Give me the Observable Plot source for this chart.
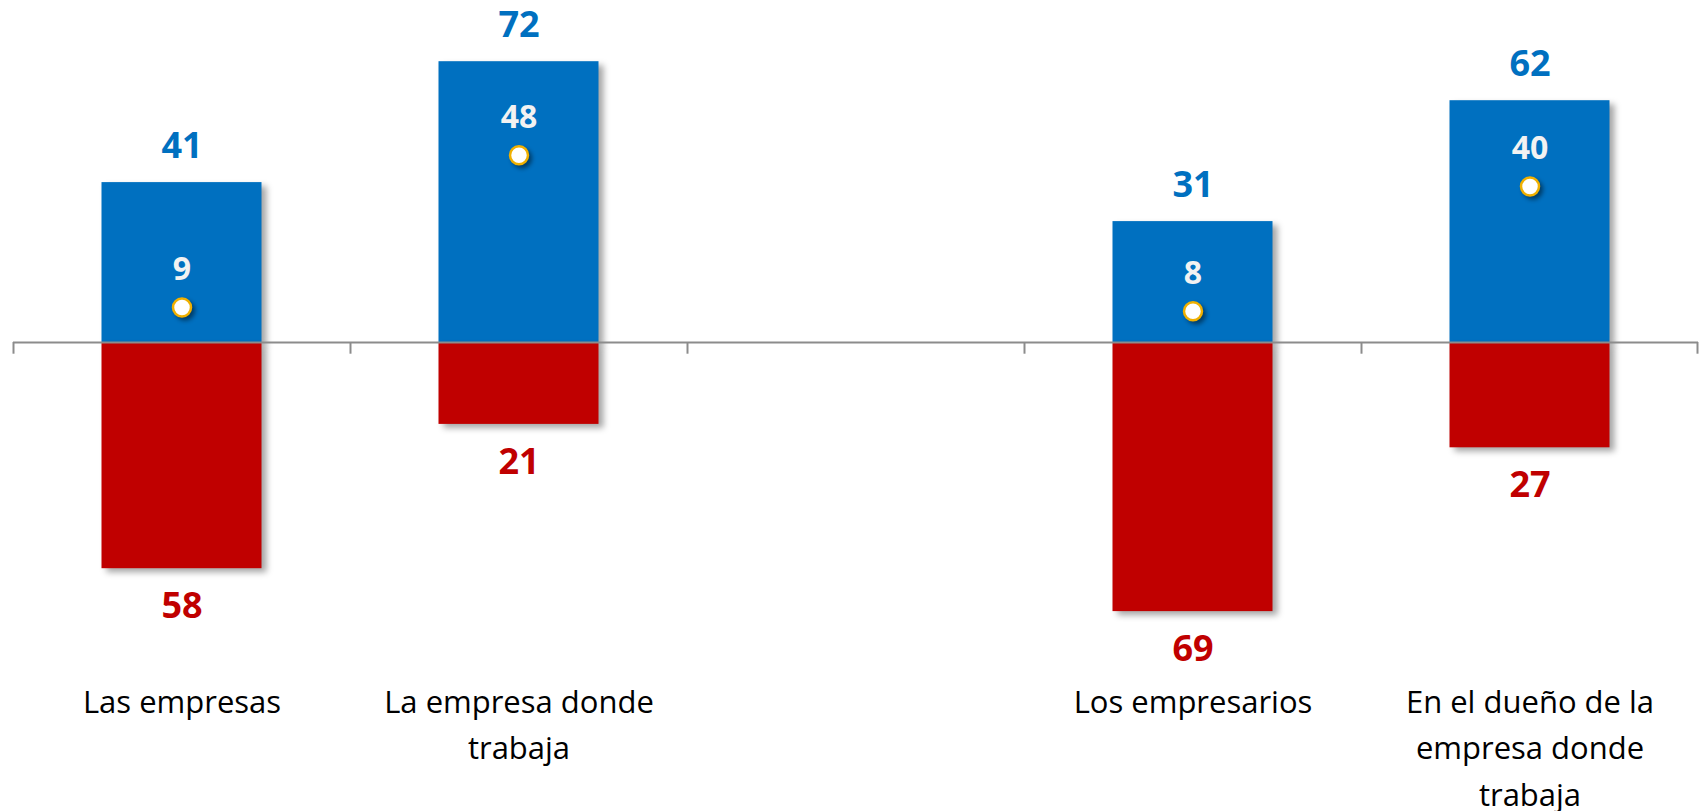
<!DOCTYPE html>
<html><head><meta charset="utf-8">
<script src="https://cdn.jsdelivr.net/npm/d3@7"></script>
<script src="https://cdn.jsdelivr.net/npm/@observablehq/plot@0.6"></script>
<style>
html,body{margin:0;padding:0;background:#fff;}
#chart svg{display:block;}
#chart g[aria-label="bar"]{filter: drop-shadow(5px 4px 3px rgba(0,0,0,0.35));}
#chart g[aria-label="dot"]{filter: drop-shadow(3px 3px 2px rgba(0,0,0,0.45));}
</style></head><body><div id="chart"></div>
<script>
const categories = ["Las empresas", "La empresa donde trabaja", "", "Los empresarios", "En el dueño de la empresa donde trabaja"];
const tickLabels = ["Las empresas", "La empresa donde\ntrabaja", "", "Los empresarios", "En el dueño de la\nempresa donde\ntrabaja"];
const positive = [41, 72, null, 31, 62];
const negative = [58, 21, null, 69, 27];
const net = [9, 48, null, 8, 40];

const W = 1704, H = 811, ML = 13, MR = 6, MT = 30, MB = 157;
const step = (W - ML - MR) / categories.length;
const barWidth = 160;
const inset = (step - barWidth) / 2;

const rows = categories.map((c, i) => ({c, pos: positive[i], neg: negative[i], net: net[i]}))
  .filter(d => d.pos != null);

const blue = "#0070C0", red = "#C00000", axisGray = "#8c8c8c";

const chart = Plot.plot({
  width: W, height: H,
  marginLeft: ML, marginRight: MR, marginTop: MT, marginBottom: MB,
  style: {fontFamily: "'Open Sans', sans-serif", background: "#fff", color: "#000"},
  x: {domain: categories, padding: 0, axis: null},
  y: {domain: [-80, 80], axis: null},
  marks: [
    Plot.barY(rows, {x: "c", y1: 0, y2: "pos", fill: blue, insetLeft: inset, insetRight: inset}),
    Plot.barY(rows, {x: "c", y1: 0, y2: d => -d.neg, fill: red, insetLeft: inset, insetRight: inset}),
    Plot.ruleY([0], {stroke: axisGray, strokeWidth: 2}),
    Plot.ruleX(categories, {x: d => d, y1: 0, y2: -3, dx: -step / 2, stroke: axisGray, strokeWidth: 2}),
    Plot.ruleX([categories[categories.length - 1]], {x: d => d, y1: 0, y2: -3, dx: step / 2 - 1, stroke: axisGray, strokeWidth: 2}),
    Plot.text(rows, {x: "c", y: "pos", text: d => String(d.pos), dy: -36, fill: blue, fontSize: 36, fontWeight: "bold", lineAnchor: "middle"}),
    Plot.text(rows, {x: "c", y: d => -d.neg, text: d => String(d.neg), dy: 38, fill: red, fontSize: 36, fontWeight: "bold", lineAnchor: "middle"}),
    Plot.dot(rows, {x: "c", y: "net", r: 9, fill: "white", stroke: "#f0b000", strokeWidth: 2.5}),
    Plot.text(rows, {x: "c", y: "net", text: d => String(d.net), dy: -38, fill: "#f2f2f2", fontSize: 32, fontWeight: "bold", lineAnchor: "middle"}),
    Plot.axisX({tickSize: 0, tickPadding: 25, fontSize: 31, lineHeight: 1.5, fill: "#000", label: null,
      tickFormat: d => tickLabels[categories.indexOf(d)]})
  ]
});
document.getElementById("chart").appendChild(chart);
</script>
</body></html>
